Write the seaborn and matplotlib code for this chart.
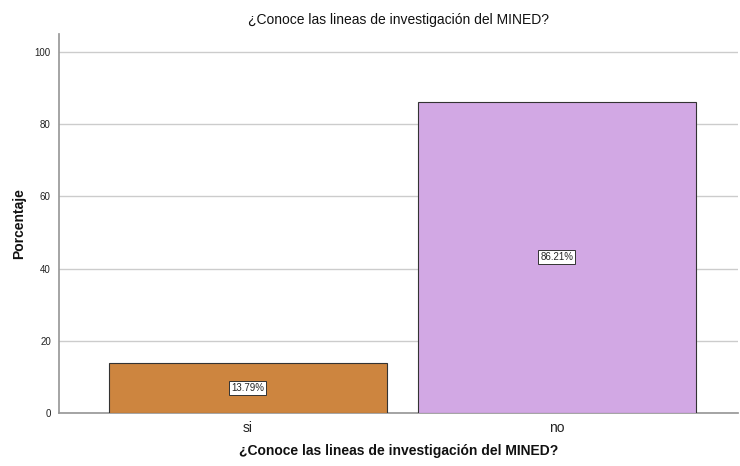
import matplotlib
matplotlib.use("Agg")
import matplotlib.pyplot as plt
import seaborn as sns
import pandas as pd

categories = ["si", "no"]
percentages = [13.79, 86.21]
bar_colors = ["#CD853F", "#D2A8E4"]
yticks = [0, 20, 40, 60, 80, 100]
title = "¿Conoce las lineas de investigación del MINED?"

sns.set_theme(style="white")
plt.rcParams["font.family"] = ["Liberation Sans", "DejaVu Sans"]

df = pd.DataFrame({"cat": categories, "pct": percentages})

fig = plt.figure(figsize=(7.4, 4.66), dpi=100)
ax = fig.add_axes([0.08, 0.114, 0.917, 0.813])

sns.barplot(data=df, x="cat", y="pct", hue="cat", palette=bar_colors, saturation=1,
            width=0.9, edgecolor="#333333", linewidth=0.8, legend=False, ax=ax, zorder=3)

for i, v in enumerate(percentages):
    ax.text(i, v / 2, f"{v:.2f}%", ha="center", va="center", fontsize=7, zorder=4,
            bbox=dict(boxstyle="square,pad=0.2", fc="white", ec="#333333", lw=0.7))

ax.set_ylim(0, 105)
ax.set_xlim(-0.61, 1.585)
ax.set_yticks(yticks)
ax.tick_params(axis="y", labelsize=7, length=0, pad=6, colors="#222222")
ax.tick_params(axis="x", labelsize=10, length=0, pad=6, colors="#222222")
ax.yaxis.grid(True, color="#cccccc", lw=1, zorder=0)
for s in ["top", "right"]:
    ax.spines[s].set_visible(False)
ax.spines["left"].set_color("#999999")
ax.spines["bottom"].set_color("#999999")

ax.set_title(title, fontsize=10, pad=7, color="#111111")
ax.set_xlabel(title, fontsize=10, fontweight="bold", labelpad=6, color="#111111")
ax.set_ylabel("Porcentaje", fontsize=10, fontweight="bold", labelpad=6, color="#111111")

fig.savefig("out.png", dpi=100)
